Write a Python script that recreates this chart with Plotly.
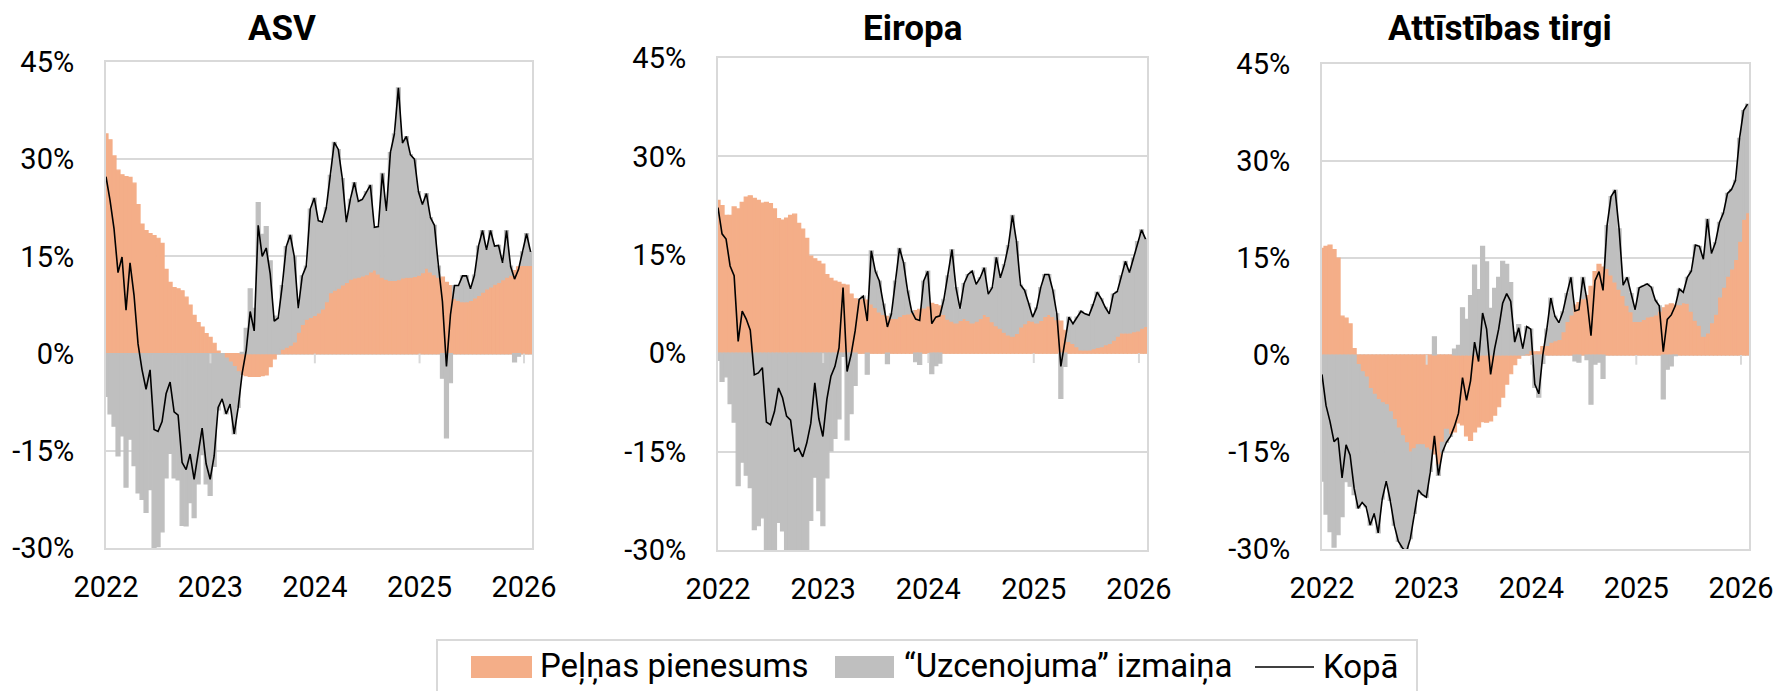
import plotly.graph_objects as go
import pandas as pd

# ---------------- data (percent), biweekly points from 2022-01-01 ----------------
dates = pd.date_range("2022-01-01", periods=107, freq="14D")

titles = ["ASV", "Eiropa", "Attīstības tirgi"]
legend_names = ["Peļņas pienesums", "“Uzcenojuma” izmaiņa", "Kopā"]
year_ticks = ["2022-01-01", "2023-01-01", "2024-01-01", "2025-01-01", "2026-01-01"]
year_labels = ["2022", "2023", "2024", "2025", "2026"]
y_ticks = [-30, -15, 0, 15, 30, 45]
y_labels = ["-30%", "-15%", "0%", "15%", "30%", "45%"]

# ASV
usa_earnings = [33.9, 33.0, 30.5, 28.3, 27.6, 27.3, 27.2, 26.3, 23.0, 20.0,
                19.0, 18.5, 18.2, 17.8, 17.0, 13.0, 11.0, 10.2, 10.0, 9.7,
                8.7, 7.5, 5.9, 4.8, 4.1, 3.1, 2.5, 1.6, 0.4, 0.0,
                -0.7, -1.3, -2.0, -2.8, -3.2, -3.4, -3.5, -3.5, -3.5, -3.4,
                -3.3, -2.0, -0.8, 0.0, 0.7, 1.0, 1.3, 1.8, 3.3, 4.5,
                5.3, 5.6, 5.9, 6.3, 6.9, 8.0, 9.4, 9.8, 10.1, 10.6,
                11.0, 11.5, 11.7, 11.8, 12.0, 12.2, 12.6, 12.9, 12.3, 11.8,
                11.5, 11.3, 11.3, 11.4, 11.7, 11.8, 11.8, 11.9, 12.1, 12.5,
                13.2, 12.6, 12.2, 11.8, 11.8, 11.0, 10.5, 8.5, 8.2, 8.0,
                8.0, 8.2, 8.6, 9.0, 9.5, 10.0, 10.3, 10.7, 11.0, 11.4,
                11.8, 12.1, 12.8, 13.4, 13.6, 13.6, 13.6]
usa_total = [27.3, 23.7, 19.3, 12.5, 14.9, 6.7, 14.0, 9.0, 1.5, -2.5,
             -5.5, -2.5, -11.7, -12.0, -10.5, -6.2, -4.4, -9.0, -9.5, -16.8,
             -17.9, -15.5, -19.4, -15.3, -11.5, -17.0, -19.4, -15.8, -8.3, -7.0,
             -9.3, -7.8, -12.4, -8.3, -3.0, 0.5, 6.5, 3.5, 19.8, 15.0,
             16.3, 12.3, 5.0, 5.5, 10.5, 16.5, 18.3, 15.0, 7.0, 12.0,
             13.5, 22.3, 24.0, 20.5, 20.3, 22.5, 27.5, 32.6, 31.5, 27.0,
             20.3, 23.8, 26.4, 23.5, 23.8, 25.0, 26.0, 19.5, 19.6, 27.8,
             22.0, 31.0, 33.9, 41.0, 32.5, 33.5, 30.7, 30.0, 25.0, 23.0,
             24.7, 21.0, 19.8, 13.5, 8.0, -2.0, 6.0, 10.5, 10.5, 12.0,
             12.0, 10.0, 12.1, 16.6, 19.0, 16.0, 19.0, 16.6, 16.7, 14.0,
             19.0, 13.5, 11.5, 13.0, 15.7, 18.5, 15.7]

# Eiropa
eur_earnings = [23.3, 22.5, 21.0, 21.0, 22.3, 22.0, 23.0, 23.8, 24.0, 23.6,
                23.3, 22.9, 23.0, 22.8, 22.0, 20.5, 20.3, 20.6, 21.0, 21.2,
                19.8, 18.9, 17.5, 14.8, 14.4, 14.0, 13.6, 12.0, 11.4, 11.0,
                10.8, 10.5, 10.4, 9.0, 8.3, 8.2, 8.4, 8.1, 7.5, 7.0,
                6.3, 5.9, 5.6, 5.3, 5.3, 5.6, 5.9, 6.0, 6.2, 6.5,
                6.7, 6.9, 7.2, 7.6, 7.4, 7.2, 5.9, 5.2, 4.9, 4.6,
                5.0, 5.3, 5.0, 4.6, 4.9, 5.3, 5.9, 5.6, 4.8, 4.2,
                3.8, 3.2, 2.8, 2.6, 3.0, 4.0, 4.5, 5.0, 4.9, 4.6,
                5.0, 5.6, 5.9, 5.6, 5.1, 4.9, 3.5, 1.8, 1.5, 1.0,
                0.5, 0.5, 0.5, 0.7, 0.9, 1.0, 1.3, 1.5, 2.0, 2.6,
                3.1, 3.1, 3.1, 3.3, 3.4, 3.8, 4.1]
eur_total = [22.2, 18.2, 17.4, 13.3, 11.8, 1.8, 6.4, 5.2, 3.5, -3.3,
             -3.0, -2.2, -10.5, -10.9, -8.9, -5.3, -6.8, -9.6, -10.2, -15.0,
             -14.5, -15.8, -13.7, -10.7, -4.5, -10.0, -12.7, -7.0, -3.5, -2.0,
             0.8, 10.0, -2.8, -0.2, 3.4, 8.2, 8.7, 4.9, 15.6, 12.5,
             11.0, 7.5, 4.0, 6.0, 11.0, 16.0, 13.8, 9.5, 6.4, 5.2,
             5.0, 11.0, 12.5, 4.5, 5.5, 5.7, 8.2, 11.8, 15.8, 10.0,
             6.8, 10.6, 12.0, 12.5, 10.5, 11.5, 13.0, 9.0, 10.0, 14.6,
             11.5, 13.5, 16.4, 21.0, 17.0, 10.4, 9.6, 7.6, 5.5, 6.9,
             10.0, 12.0, 12.0, 9.6, 6.0, -2.0, 1.5, 5.5, 4.5, 5.5,
             6.4, 6.0, 5.8, 7.4, 9.3, 8.3, 7.0, 6.0, 9.0, 9.4,
             11.8, 14.0, 12.3, 14.5, 17.0, 18.8, 17.4]

# Attīstības tirgi
em_earnings = [16.5, 16.8, 17.0, 16.3, 15.0, 6.0, 5.7, 4.8, 1.0, -1.5,
               -2.6, -3.4, -5.2, -6.1, -6.9, -7.4, -7.7, -8.8, -10.0, -11.3,
               -12.5, -13.6, -15.0, -14.5, -13.9, -13.9, -14.4, -14.7, -15.3, -17.0,
               -13.5, -11.5, -12.3, -11.9, -10.5, -10.8, -12.5, -13.2, -11.9, -11.1,
               -10.3, -10.4, -10.2, -9.3, -8.0, -6.5, -4.5, -2.9, -1.5, -0.5,
               0.0, 0.2, 0.7, 0.5, 0.5, 1.3, 1.5, 2.0, 2.2, 2.4,
               3.6, 5.2, 6.2, 7.7, 8.1, 8.7, 9.2, 10.6, 12.9, 14.0,
               13.6, 13.4, 12.4, 11.3, 10.2, 9.2, 7.7, 6.7, 5.2, 5.2,
               5.5, 5.9, 6.0, 6.2, 6.8, 7.3, 7.7, 7.9, 7.7, 7.8,
               8.1, 8.0, 6.8, 5.4, 4.6, 2.9, 3.4, 5.0, 6.3, 9.0,
               10.5, 12.2, 13.3, 14.8, 17.6, 21.0, 22.0]
em_total = [-3.0, -7.8, -10.3, -13.4, -12.8, -19.0, -13.9, -15.5, -20.6, -23.7,
            -22.8, -23.5, -26.3, -24.5, -27.5, -22.3, -19.5, -22.5, -26.3, -28.8,
            -29.8, -30.5, -28.4, -24.5, -20.9, -21.6, -22.0, -18.0, -12.5, -18.6,
            -15.0, -13.5, -12.6, -11.0, -9.0, -3.5, -7.0, -4.0, 2.0, -1.0,
            6.5, 4.0, -3.0, 1.0, 4.0, 8.0, 9.5, 8.3, 2.0, 4.2,
            1.0, 4.4, 4.0, -4.5, -6.0, 0.0, 4.0, 8.8, 6.0, 5.0,
            6.7, 9.5, 12.0, 6.8, 7.0, 12.0, 8.5, 3.0, 11.5, 12.9,
            10.0, 20.0, 24.5, 25.5, 19.5, 10.8, 12.0, 9.5, 7.0, 10.4,
            10.7, 11.0, 10.5, 8.5, 7.6, 0.5, 5.5, 6.2, 7.6, 10.2,
            9.7, 12.0, 13.0, 17.0, 16.8, 14.8, 21.0, 15.7, 17.4, 20.5,
            22.0, 25.0, 25.6, 27.0, 33.5, 37.8, 38.8]

# ---------------- styling ----------------
W, H = 1781, 691
ORANGE = "#F4AE88"
GRAY = "#BFBFBF"
GRID = "#D9D9D9"
FONT = "Roboto"

def px_x(v):
    return v / W

def px_y(v):
    return 1 - v / H

x_dom = [(106, 532), (718, 1147), (1322, 1749)]
y_dom = [(62, 548), (58, 550), (64, 549)]
title_x = [282, 912, 1500]

panels = [(usa_earnings, usa_total), (eur_earnings, eur_total), (em_earnings, em_total)]

fig = go.Figure()
shapes = []
annotations = []
layout_axes = {}

for i, (earn, total) in enumerate(panels):
    sfx = "" if i == 0 else str(i + 1)
    xa, ya = "x" + sfx, "y" + sfx
    multiple = [round(t - e, 2) for t, e in zip(total, earn)]
    fig.add_trace(go.Bar(x=dates, y=earn, name=legend_names[0], xaxis=xa, yaxis=ya,
                         marker=dict(color=ORANGE, line=dict(color=ORANGE, width=1.2)),
                         showlegend=False, hoverinfo="skip"))
    fig.add_trace(go.Bar(x=dates, y=multiple, name=legend_names[1], xaxis=xa, yaxis=ya,
                         marker=dict(color=GRAY, line=dict(color=GRAY, width=1.2)),
                         showlegend=False, hoverinfo="skip"))
    fig.add_trace(go.Scatter(x=dates, y=total, name=legend_names[2], xaxis=xa, yaxis=ya,
                             mode="lines", line=dict(color="black", width=1.6),
                             showlegend=False, hoverinfo="skip"))

    layout_axes["xaxis" + sfx] = dict(
        domain=[px_x(x_dom[i][0]), px_x(x_dom[i][1])],
        type="date", range=["2022-01-01", "2026-01-29"],
        tickvals=year_ticks, ticktext=year_labels,
        showgrid=False, zeroline=False, ticks="",
        showline=True, mirror=True, linecolor=GRID, linewidth=2,
        tickfont=dict(family=FONT, size=29, color="black"),
        ticklabelstandoff=12, anchor=ya, fixedrange=True, automargin=False,
    )
    layout_axes["yaxis" + sfx] = dict(
        domain=[px_y(y_dom[i][1]), px_y(y_dom[i][0])],
        range=[-30, 45], tickvals=y_ticks, ticktext=y_labels,
        showgrid=True, gridcolor=GRID, gridwidth=2, zeroline=False, ticks="",
        showline=True, mirror=True, linecolor=GRID, linewidth=2,
        tickfont=dict(family=FONT, size=29, color="black"),
        ticklabelstandoff=24, anchor=xa, fixedrange=True, automargin=False,
    )
    # small tick marks on the zero line at year boundaries
    for d in year_ticks[1:]:
        shapes.append(dict(type="line", xref=xa, yref=ya, x0=d, x1=d, y0=0, y1=-1.5,
                           line=dict(color=GRID, width=2), layer="above"))
    annotations.append(dict(text="<b>" + titles[i] + "</b>", xref="paper", yref="paper",
                            x=px_x(title_x[i]), y=px_y(29), xanchor="center", yanchor="middle",
                            showarrow=False, font=dict(family=FONT, size=35, color="black")))

# ---------------- manual legend ----------------
LEG_FONT = dict(family="Roboto", size=33, color="black")
shapes.append(dict(type="rect", xref="paper", yref="paper",
                   x0=px_x(437), x1=px_x(1417), y0=px_y(700), y1=px_y(640),
                   line=dict(color=GRID, width=2), fillcolor="rgba(0,0,0,0)"))
shapes.append(dict(type="rect", xref="paper", yref="paper",
                   x0=px_x(471), x1=px_x(532), y0=px_y(678), y1=px_y(656),
                   line=dict(width=0), fillcolor=ORANGE))
shapes.append(dict(type="rect", xref="paper", yref="paper",
                   x0=px_x(835), x1=px_x(894), y0=px_y(678), y1=px_y(656),
                   line=dict(width=0), fillcolor=GRAY))
shapes.append(dict(type="line", xref="paper", yref="paper",
                   x0=px_x(1255), x1=px_x(1314), y0=px_y(667), y1=px_y(667),
                   line=dict(color="black", width=1.6)))
for xpos, txt in [(538, legend_names[0]), (902, legend_names[1]), (1321, legend_names[2])]:
    annotations.append(dict(text=txt, xref="paper", yref="paper", x=px_x(xpos), y=px_y(666),
                            xanchor="left", yanchor="middle", showarrow=False, font=LEG_FONT))

fig.update_layout(
    width=W, height=H, autosize=False,
    margin=dict(l=0, r=0, t=0, b=0, pad=0, autoexpand=False),
    paper_bgcolor="white", plot_bgcolor="white",
    barmode="relative", bargap=0,
    shapes=shapes, annotations=annotations,
    **layout_axes,
)

fig.write_html(
    "out.html",
    config={"displayModeBar": False, "staticPlot": True},
    post_script="document.body.style.margin='0px'; document.body.style.overflow='hidden';",
)
